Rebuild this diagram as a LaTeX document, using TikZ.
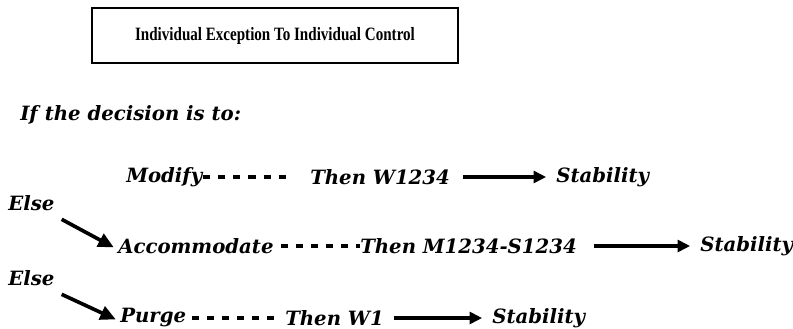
\documentclass[tikz,border=0pt]{standalone}
\usepackage{fontspec}
\setmainfont{DejaVu Serif}
\newfontfamily\titlefont[FakeStretch=0.8]{Liberation Serif}
\usetikzlibrary{arrows.meta}

\begin{document}
\begin{tikzpicture}[x=0.025cm, y=-0.025cm,
  every node/.style={inner sep=0pt, anchor=west},
  word/.style={font=\fontsize{14}{16}\selectfont\bfseries\itshape},
  dashlink/.style={line width=2.6pt, dash pattern=on 5pt off 5.7pt},
  thenlink/.style={line width=2.6pt, -{Triangle[length=9pt, width=8.5pt]}},
  elselink/.style={line width=2.6pt, -{Triangle[length=11pt, width=10pt]}}]

\useasboundingbox (0,0) rectangle (793,328);

% title
\node[draw, line width=0.8pt, anchor=center, minimum width=366*0.025cm, minimum height=55*0.025cm,
  font=\titlefont\fontsize{13.4}{16}\selectfont\bfseries] (title) at (275,35.5) {Individual Exception To Individual Control};

\node[word] (intro) at (20,115) {If the decision is to:};

% first choice
\node[word] (modify) at (126,177) {Modify};
\node[word] (thenA) at (310,177) {Then W1234};
\node[word] (stabA) at (556,177) {Stability};
\draw[dashlink] ([xshift=0.5pt]modify.east) -- ([xshift=-12pt]thenA.west);
\draw[thenlink] ([xshift=9pt]thenA.east) -- ([xshift=-7pt]stabA.west);

% second choice
\node[word] (elseA) at (8,203) {Else};
\node[word] (accom) at (118,246) {Accommodate};
\node[word] (thenB) at (360,246) {Then M1234-S1234};
\node[word] (stabB) at (700,246) {Stability};
\draw[dashlink] ([xshift=5pt]accom.east) -- (thenB.west);
\draw[thenlink] ([xshift=12pt]thenB.east) -- ([xshift=-7pt]stabB.west);
\draw[elselink] ([xshift=5pt,yshift=-6pt]elseA.south east) -- ([xshift=-3pt,yshift=-1pt]accom.west);

% third choice
\node[word] (elseB) at (8,278) {Else};
\node[word] (purge) at (120,318) {Purge};
\node[word] (thenC) at (285,318) {Then W1};
\node[word] (stabC) at (492,318) {Stability};
\draw[dashlink] ([xshift=4pt]purge.east) -- ([xshift=-7pt]thenC.west);
\draw[thenlink] ([xshift=7pt]thenC.east) -- ([xshift=-7pt]stabC.west);
\draw[elselink] ([xshift=5pt,yshift=-6pt]elseB.south east) -- ([xshift=-3pt,yshift=-1pt]purge.west);
\end{tikzpicture}
\end{document}
